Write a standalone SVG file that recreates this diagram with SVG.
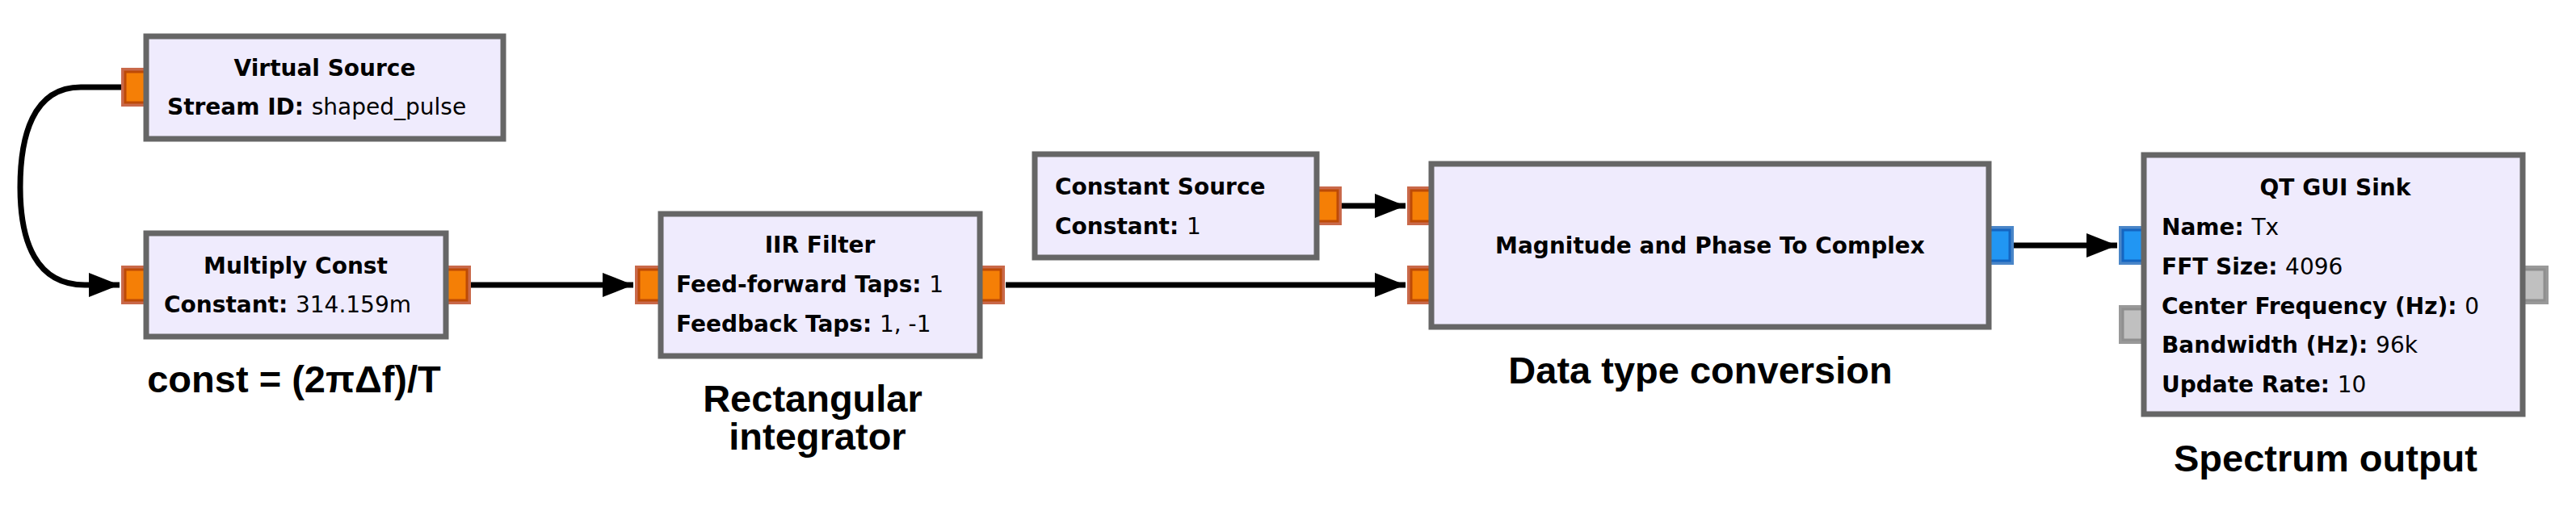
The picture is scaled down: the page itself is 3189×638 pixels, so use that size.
<svg xmlns="http://www.w3.org/2000/svg" width="3189" height="638" viewBox="0 0 3189 638">
<style>
.box{fill:#efebfd;stroke:#666;stroke-width:7}
.po{fill:#c9694a}.pi{fill:#f57f06;stroke:#bd4a06;stroke-width:3}
.bo{fill:#4a86c8}.bi{fill:#2196f3;stroke:#1565c0;stroke-width:3}
.go{fill:#999}.gi{fill:#c0c0c0;stroke:#8f8f8f;stroke-width:3}
.t{font-family:"DejaVu Sans",sans-serif;font-size:28px;font-weight:bold;fill:#000}
.v{font-weight:normal}
.lab{font-family:"Liberation Sans",Arial,sans-serif;font-size:47px;font-weight:bold;fill:#000;text-anchor:middle}
.c{fill:none;stroke:#000;stroke-width:7}
</style>
<defs>
<marker id="ah" markerUnits="userSpaceOnUse" markerWidth="40" markerHeight="32" refX="38" refY="15" orient="auto"><path d="M0,0 L38,15 L0,30 z" fill="#000"/></marker>
</defs>
<g id="connectors">
<path class="c" d="M150,108 H100 C40,108 25,170 25,232 C25,300 45,353 105,353 H148" marker-end="url(#ah)"/>
<path class="c" d="M583,353 H784" marker-end="url(#ah)"/>
<path class="c" d="M1245,353 H1740" marker-end="url(#ah)"/>
<path class="c" d="M1661,255 H1740" marker-end="url(#ah)"/>
<path class="c" d="M2493,304 H2621" marker-end="url(#ah)"/>
</g>
<g id="virtual_source">
<rect class="po" x="150" y="84" width="32" height="48"/><rect class="pi" x="155" y="89" width="26" height="38"/>
<rect class="box" x="181" y="45" width="442" height="127"/>
<text class="t" x="402" y="94" text-anchor="middle">Virtual Source</text>
<text class="t" x="207" y="142">Stream ID: <tspan class="v">shaped_pulse</tspan></text>
</g>
<g id="multiply_const">
<rect class="po" x="150" y="329" width="32" height="48"/><rect class="pi" x="155" y="334" width="26" height="38"/>
<rect class="po" x="551" y="329" width="32" height="48"/><rect class="pi" x="552" y="334" width="26" height="38"/>
<rect class="box" x="181" y="289" width="371" height="128"/>
<text class="t" x="366" y="339" text-anchor="middle">Multiply Const</text>
<text class="t" x="203" y="387">Constant: <tspan class="v">314.159m</tspan></text>
</g>
<text class="lab" x="364" y="486">const = (2πΔf)/T</text>
<g id="iir_filter">
<rect class="po" x="786" y="329" width="32" height="48"/><rect class="pi" x="791" y="334" width="26" height="38"/>
<rect class="po" x="1212" y="329" width="32" height="48"/><rect class="pi" x="1213" y="334" width="26" height="38"/>
<rect class="box" x="818" y="265" width="395" height="176"/>
<text class="t" x="1015" y="313" text-anchor="middle">IIR Filter</text>
<text class="t" x="837" y="362">Feed-forward Taps: <tspan class="v">1</tspan></text>
<text class="t" x="837" y="411">Feedback Taps: <tspan class="v">1, -1</tspan></text>
</g>
<text class="lab" x="1006" y="510">Rectangular</text>
<text class="lab" x="1012" y="557">integrator</text>
<g id="constant_source">
<rect class="po" x="1629" y="231" width="32" height="48"/><rect class="pi" x="1630" y="236" width="26" height="38"/>
<rect class="box" x="1281" y="191" width="349" height="128"/>
<text class="t" x="1306" y="241">Constant Source</text>
<text class="t" x="1306" y="290">Constant: <tspan class="v">1</tspan></text>
</g>
<g id="mag_phase">
<rect class="po" x="1742" y="231" width="32" height="48"/><rect class="pi" x="1747" y="236" width="26" height="38"/>
<rect class="po" x="1742" y="329" width="32" height="48"/><rect class="pi" x="1747" y="334" width="26" height="38"/>
<rect class="bo" x="2461" y="280" width="32" height="48"/><rect class="bi" x="2462" y="285" width="26" height="38"/>
<rect class="box" x="1772" y="203" width="690" height="202"/>
<text class="t" x="2117" y="314" text-anchor="middle">Magnitude and Phase To Complex</text>
</g>
<text class="lab" x="2105" y="475">Data type conversion</text>
<g id="qt_gui_sink">
<rect class="bo" x="2623" y="280" width="32" height="48"/><rect class="bi" x="2628" y="285" width="26" height="38"/>
<rect class="go" x="2623" y="378" width="32" height="48"/><rect class="gi" x="2628" y="383" width="26" height="38"/>
<rect class="go" x="3122" y="329" width="33" height="48"/><rect class="gi" x="3123" y="334" width="27" height="38"/>
<rect class="box" x="2654" y="192" width="469" height="321"/>
<text class="t" x="2891" y="242" text-anchor="middle">QT GUI Sink</text>
<text class="t" x="2676" y="291">Name: <tspan class="v">Tx</tspan></text>
<text class="t" x="2676" y="340">FFT Size: <tspan class="v">4096</tspan></text>
<text class="t" x="2676" y="389">Center Frequency (Hz): <tspan class="v">0</tspan></text>
<text class="t" x="2676" y="437">Bandwidth (Hz): <tspan class="v">96k</tspan></text>
<text class="t" x="2676" y="486">Update Rate: <tspan class="v">10</tspan></text>
</g>
<text class="lab" x="2879" y="584">Spectrum output</text>
</svg>
